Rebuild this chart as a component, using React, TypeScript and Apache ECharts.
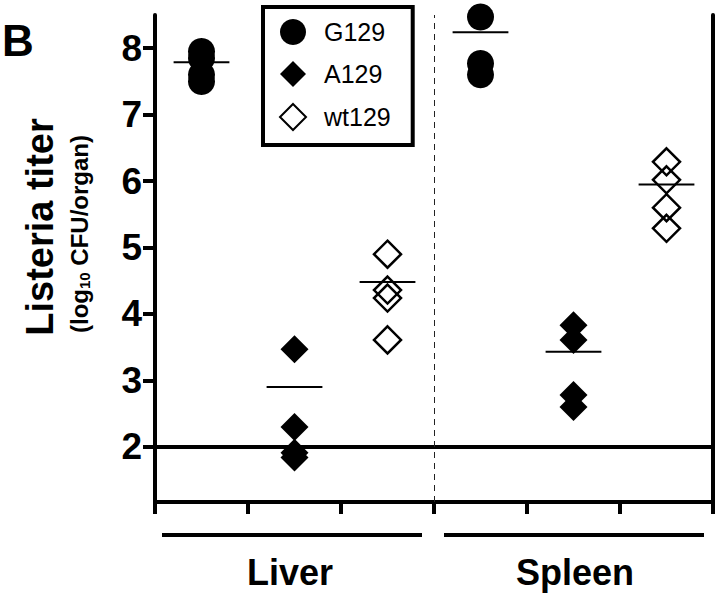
import React, { useEffect, useRef } from "react";
import * as echarts from "echarts";

// ---- data ----
const organs = ["Liver", "Spleen"];
const groups = ["G129", "A129", "wt129"];
// x positions of each group column (Liver: 0.5,1.5,2.5 ; Spleen: 3.5,4.5,5.5)
const liverX = [0.5, 1.5, 2.5];
const spleenX = [3.5, 4.5, 5.5];

const g129Liver = [7.95, 7.85, 7.6, 7.5];
const g129Spleen = [8.47, 7.77, 7.6];
const a129Liver = [3.47, 2.3, 1.91, 1.84];
const a129Spleen = [3.83, 3.61, 2.78, 2.6];
const wt129Liver = [4.9, 4.36, 4.24, 3.61];
const wt129Spleen = [6.29, 6.02, 5.6, 5.29];

const meanLiver = [7.79, 2.9, 4.48];
const meanSpleen = [8.24, 3.43, 5.95];

const yTicks = [2, 3, 4, 5, 6, 7, 8];
const detectionLimit = 2;
const organDivider = 3;

const FONT = "'Liberation Sans', Arial, Helvetica, sans-serif";

export default function App() {
  const ref = useRef<HTMLDivElement>(null);

  useEffect(() => {
    if (!ref.current) return;
    const chart = echarts.init(ref.current, null, { renderer: "svg" });

    const pts = (x: number, vals: number[]) => vals.map((v) => [x, v]);
    const meanData = [
      ...meanLiver.map((m, i) => [liverX[i], m]),
      ...meanSpleen.map((m, i) => [spleenX[i], m]),
    ];
    const HALF = 0.3;

    chart.setOption({
      animation: false,
      backgroundColor: "#fff",
      textStyle: { fontFamily: FONT },
      grid: { left: 155, right: 7, top: 15, bottom: 94, containLabel: false },
      legend: {
        data: groups,
        orient: "vertical",
        left: 263,
        top: 7,
        padding: [12, 22, 14, 16],
        itemWidth: 26,
        itemHeight: 26,
        itemGap: 16,
        backgroundColor: "#fff",
        borderColor: "#000",
        borderWidth: 4,
        borderRadius: 0,
        selectedMode: false,
        itemStyle: { opacity: 1 },
        textStyle: { fontSize: 25, color: "#000", fontFamily: FONT, padding: [0, 0, 0, 13] },
      },
      xAxis: {
        type: "value",
        min: 0,
        max: 6,
        interval: 1,
        axisLine: { show: true, onZero: false, lineStyle: { color: "#000", width: 4 } },
        axisTick: { show: true, inside: false, length: 12, lineStyle: { color: "#000", width: 4 } },
        axisLabel: { show: false },
        splitLine: { show: false },
      },
      yAxis: [
        {
          type: "value",
          min: 1.17,
          max: 8.5,
          axisLine: { show: true, onZero: false, lineStyle: { color: "#000", width: 4 } },
          axisTick: {
            show: true,
            inside: false,
            length: 12,
            customValues: yTicks,
            lineStyle: { color: "#000", width: 4 },
          },
          axisLabel: {
            show: true,
            customValues: yTicks,
            margin: 13,
            fontSize: 37,
            fontWeight: "bold",
            color: "#000",
            fontFamily: FONT,
            padding: [0, 0, 8, 0],
          },
          splitLine: { show: false },
        },
        {
          type: "value",
          position: "right",
          min: 1.17,
          max: 8.5,
          axisLine: { show: true, onZero: false, lineStyle: { color: "#000", width: 4 } },
          axisTick: { show: false },
          axisLabel: { show: false },
          splitLine: { show: false },
        },
      ],
      series: [
        {
          name: "G129",
          type: "scatter",
          symbol: "circle",
          symbolSize: 27,
          itemStyle: { color: "#000", opacity: 1 },
          data: [...pts(liverX[0], g129Liver), ...pts(spleenX[0], g129Spleen)],
          z: 3,
        },
        {
          name: "A129",
          type: "scatter",
          symbol: "diamond",
          symbolSize: 28,
          itemStyle: { color: "#000", opacity: 1 },
          data: [...pts(liverX[1], a129Liver), ...pts(spleenX[1], a129Spleen)],
          z: 3,
        },
        {
          name: "wt129",
          type: "scatter",
          symbol: "diamond",
          symbolSize: 27,
          itemStyle: { color: "rgba(255,255,255,0)", borderColor: "#000", borderWidth: 2.5, opacity: 1 },
          data: [...pts(liverX[2], wt129Liver), ...pts(spleenX[2], wt129Spleen)],
          z: 3,
        },
        {
          name: "mean",
          type: "custom",
          z: 5,
          encode: { x: 0, y: 1 },
          data: meanData,
          renderItem: (params: any, api: any) => {
            const x = api.value(0);
            const y = api.value(1);
            const p1 = api.coord([x - HALF, y]);
            const p2 = api.coord([x + HALF, y]);
            return {
              type: "line",
              shape: { x1: p1[0], y1: p1[1], x2: p2[0], y2: p2[1] },
              style: { stroke: "#000", lineWidth: 2 },
            };
          },
          markLine: {
            silent: true,
            symbol: "none",
            label: { show: false },
            data: [
              { yAxis: detectionLimit, lineStyle: { color: "#000", width: 4, type: "solid", opacity: 1 } },
              { xAxis: organDivider, lineStyle: { color: "#222", width: 1, type: [6, 5], opacity: 1 } },
            ],
          },
        },
      ],
      graphic: [
        {
          type: "text",
          left: 2,
          top: 18,
          style: { text: "B", fontSize: 44, fontWeight: "bold", fill: "#000", fontFamily: FONT },
        },
        {
          type: "text",
          x: 40,
          y: 227,
          rotation: Math.PI / 2,
          style: {
            text: "Listeria titer",
            fontSize: 38,
            fontWeight: "bold",
            fill: "#000",
            fontFamily: FONT,
            align: "center",
            verticalAlign: "middle",
          },
        },
        {
          type: "text",
          x: 79,
          y: 234,
          rotation: Math.PI / 2,
          style: {
            text: "{b|(log}{s|10}{b| CFU/organ)}",
            align: "center",
            verticalAlign: "middle",
            fill: "#000",
            rich: {
              b: { fontSize: 24, fontWeight: "bold", fontFamily: FONT, fill: "#000" },
              s: { fontSize: 15, fontWeight: "bold", fontFamily: FONT, fill: "#000", padding: [11, 0, 0, 0] },
            },
          },
        },
        {
          type: "line",
          shape: { x1: 162, y1: 535, x2: 422, y2: 535 },
          style: { stroke: "#000", lineWidth: 4 },
        },
        {
          type: "line",
          shape: { x1: 444, y1: 535, x2: 704, y2: 535 },
          style: { stroke: "#000", lineWidth: 4 },
        },
        {
          type: "text",
          x: 290,
          y: 572,
          style: {
            text: organs[0],
            fontSize: 36,
            fontWeight: "bold",
            fill: "#000",
            fontFamily: FONT,
            align: "center",
            verticalAlign: "middle",
          },
        },
        {
          type: "text",
          x: 575,
          y: 572,
          style: {
            text: organs[1],
            fontSize: 36,
            fontWeight: "bold",
            fill: "#000",
            fontFamily: FONT,
            align: "center",
            verticalAlign: "middle",
          },
        },
      ],
    });

    return () => chart.dispose();
  }, []);

  return (
    <div
      ref={ref}
      style={{ position: "fixed", left: 0, top: 0, width: 720, height: 596, background: "#fff" }}
    />
  );
}
